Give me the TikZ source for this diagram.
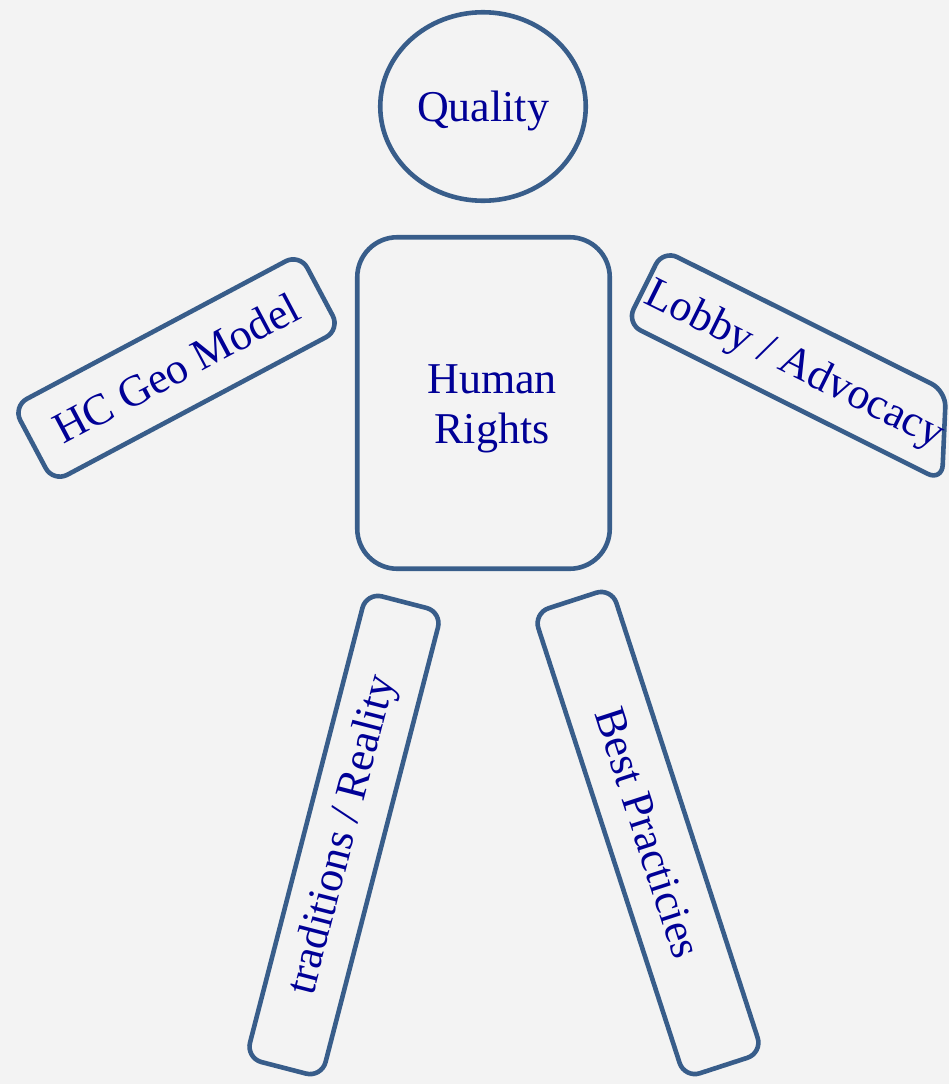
\documentclass[tikz,border=0pt]{standalone}
\usepackage{fontspec}
\setmainfont{Liberation Serif}
\usetikzlibrary{shapes.geometric}
\definecolor{edge}{HTML}{385D8A}
\definecolor{ink}{RGB}{0,0,150}
\definecolor{bg}{HTML}{F3F3F3}
\begin{document}
\begin{tikzpicture}[x=1pt,y=-1pt,
  label text/.style={text=ink,font=\fontsize{44}{50}\selectfont,inner sep=0pt,align=center},
  part/.style={label text,draw=edge,line width=4.6pt},
  limb/.style={part,rectangle,rounded corners=16pt}]
\fill[bg] (0,0) rectangle (949,1084);
\useasboundingbox (0,0) rectangle (949,1084);
% head
\node[part,ellipse,minimum width=205.5pt,minimum height=188.5pt] (head) at (483,106.5) {};
\node[label text] (headtext) at (483,111) {Quality};
% body
\node[part,rectangle,rounded corners=40pt,minimum width=252.5pt,minimum height=331.5pt] (body) at (483.5,403) {};
\node[label text] (bodytext) at (492,409) {Human\\Rights};
% left arm
\node[limb,minimum width=325pt,minimum height=86pt,rotate=28] (larm) at (176.5,368) {HC Geo Model};
% right arm (cut by the right margin)
\coordinate (ra1) at (663,250);
\coordinate (ra2) at (946,391);
\coordinate (ra3) at (942,481);
\coordinate (ra4) at (626.5,323.4);
\draw[draw=edge,line width=4.6pt,rounded corners=16pt] (ra1) -- (ra2) -- (ra3) -- (ra4) -- cycle;
\node[label text,rotate=-26.5] (rarm) at (794,366) {Lobby / Advocacy};
% legs
\node[limb,minimum width=481pt,minimum height=78pt,rotate=75.5] (lleg) at (344,835) {traditions / Reality};
\node[limb,minimum width=489pt,minimum height=82pt,rotate=-72] (rleg) at (648,833) {Best Practicies};
\end{tikzpicture}
\end{document}
